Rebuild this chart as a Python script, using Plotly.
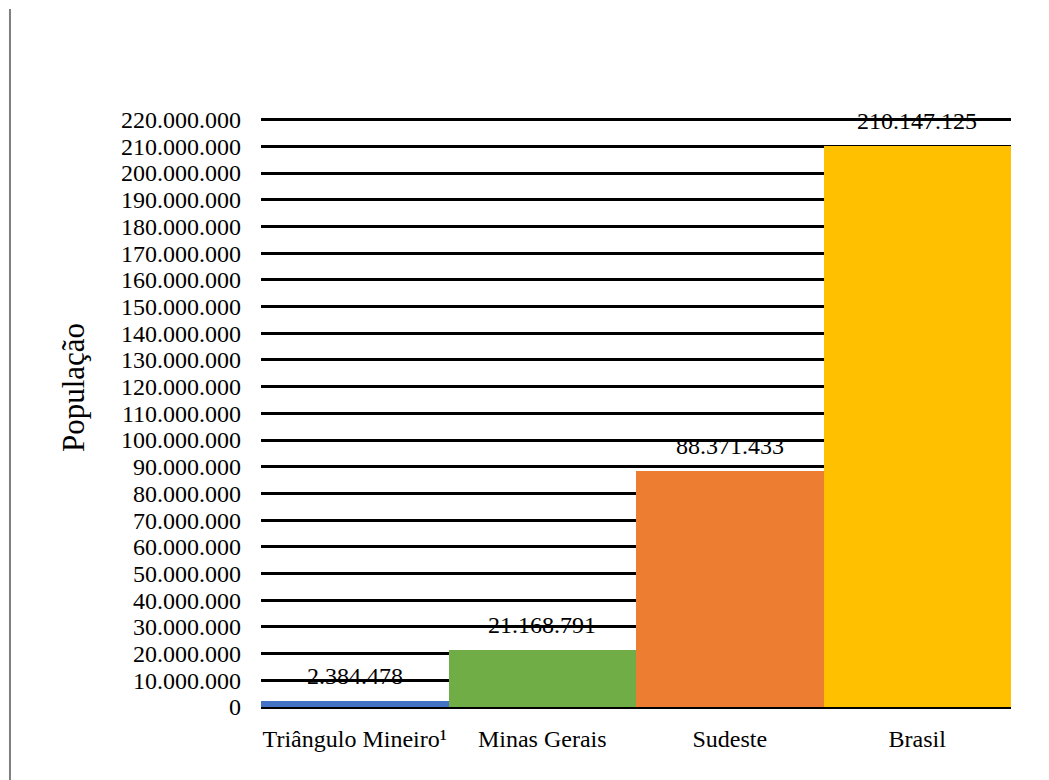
import plotly.graph_objects as go

categories = ["Triângulo Mineiro¹", "Minas Gerais", "Sudeste", "Brasil"]
populacao = [2384478, 21168791, 88371433, 210147125]
bar_colors = ["#4472C4", "#70AD47", "#ED7D31", "#FFC000"]
tick_values = list(range(0, 220000001, 10000000))
y_title = "População"

FONT = "Liberation Serif"

fig = go.Figure()
fig.add_trace(go.Bar(
    x=categories, y=populacao,
    marker=dict(color=bar_colors, line=dict(width=0)),
    hoverinfo="skip",
))

for c, v in zip(categories, populacao):
    fig.add_annotation(
        x=c, y=v, text=f"{v:,}".replace(",", "."),
        showarrow=False, yanchor="bottom", yshift=10,
        font=dict(family=FONT, size=24, color="black"),
    )

# y-axis title as annotation (positioned like the reference)
fig.add_annotation(
    xref="paper", yref="paper", x=-0.2493, y=0.5416,
    xanchor="center", yanchor="middle", textangle=-90,
    text=y_title, showarrow=False,
    font=dict(family=FONT, size=31, color="black"),
)

# left frame line
fig.add_shape(type="line", xref="paper", yref="paper",
              x0=-0.3347, x1=-0.3347, y0=1.185, y1=-0.14,
              line=dict(color="#7f7f7f", width=2))

fig.update_layout(
    width=1049, height=780,
    margin=dict(l=253, r=46, t=110, b=81),
    paper_bgcolor="white", plot_bgcolor="white",
    bargap=0, showlegend=False,
    separators=",.",
    font=dict(family=FONT, size=24, color="black"),
    xaxis=dict(
        showgrid=False, showline=False, ticks="",
        tickfont=dict(family=FONT, size=24, color="black"),
        ticklabelstandoff=15,
    ),
    yaxis=dict(
        range=[0, 220600000],
        tickvals=tick_values,
        tickformat=",.0f",
        showgrid=True, gridcolor="black", gridwidth=3,
        zeroline=True, zerolinecolor="black", zerolinewidth=3,
        showline=False, ticks="",
        tickfont=dict(family=FONT, size=24, color="black"),
        ticklabelstandoff=19,
    ),
)

fig.write_html("out.html")
